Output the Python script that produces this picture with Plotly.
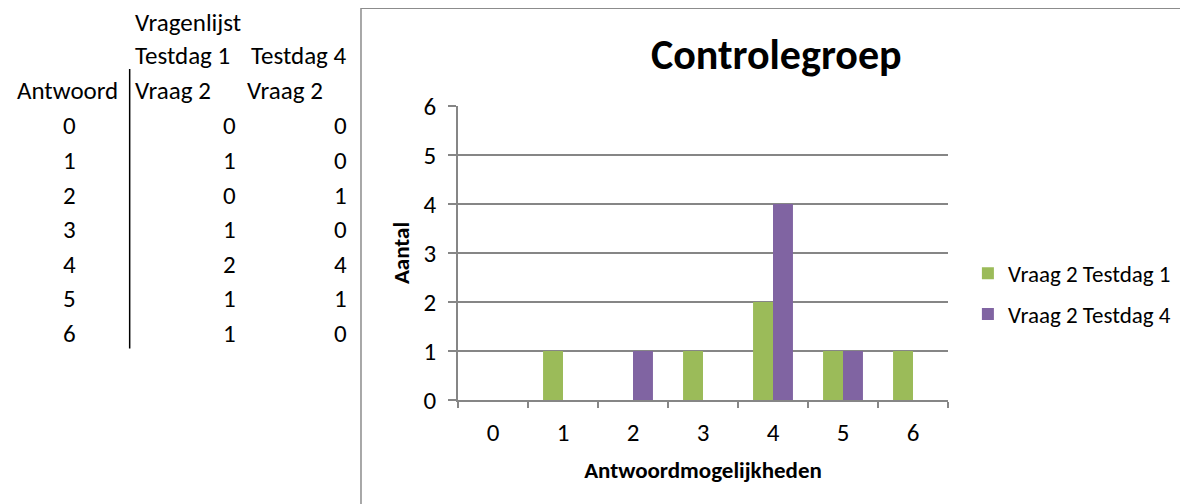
import plotly.graph_objects as go

# ---- data ----
answers = ["0", "1", "2", "3", "4", "5", "6"]
testdag1 = [0, 1, 0, 1, 2, 1, 1]
testdag4 = [0, 0, 1, 0, 4, 1, 0]
series_names = ["Vraag 2 Testdag 1", "Vraag 2 Testdag 4"]
chart_title = "Controlegroep"
x_title = "Antwoordmogelijkheden"
y_title = "Aantal"
y_ticks = [0, 1, 2, 3, 4, 5, 6]

# ---- layout geometry (window pixels; page body has an 8px margin) ----
OFF = 8
W, H = 1188 - OFF, 504 - OFF
L, R, T, B = 457.5 - OFF, 950.0 - OFF, 106.0 - OFF, 400.5 - OFF
FONT = "Carlito, Lato, sans-serif"
GREEN = "#9BBB59"
PURPLE = "#8064A2"
GRID = "#868686"
TICK_SIZE = 25


def px(x):
    return (x - OFF - L) / (R - L)


def py(y):
    return (B - (y - OFF)) / (B - T)


fig = go.Figure()
fig.add_trace(go.Bar(x=answers, y=testdag1, name=series_names[0],
                     marker=dict(color=GREEN, line=dict(width=0)),
                     legendgroup="a"))
fig.add_trace(go.Bar(x=answers, y=testdag4, name=series_names[1],
                     marker=dict(color=PURPLE, line=dict(width=0)),
                     legendgroup="b"))

annotations = []


def txt(s, x, y, anchor="left", size=25, bold=False):
    annotations.append(dict(
        text=f"<b>{s}</b>" if bold else s, x=px(x), y=py(y), xref="paper", yref="paper",
        xanchor=anchor, yanchor="middle", showarrow=False,
        font=dict(family=FONT, size=size, color="#000")))


# left-hand spreadsheet table
txt("Vragenlijst", 131, 22)
txt("Testdag 1", 131, 55)
txt("Testdag 4", 348, 55, anchor="right")
txt("Antwoord", 65, 90, anchor="center")
txt("Vraag 2", 131, 90)
txt("Vraag 2", 243, 90)
for i, a in enumerate(answers):
    yy = 126 + 34.6 * i
    txt(a, 67, yy, anchor="center")
    txt(str(testdag1[i]), 236, yy, anchor="right")
    txt(str(testdag4[i]), 348, yy, anchor="right")

# chart title
annotations.append(dict(
    text=f"<b>{chart_title}</b>", x=px(778), y=py(54), xref="paper", yref="paper",
    xanchor="center", yanchor="middle", showarrow=False,
    font=dict(family=FONT, size=42, color="#000")))

shapes = [
    # table divider
    dict(type="line", xref="paper", yref="paper", x0=px(127.5), x1=px(127.5),
         y0=py(69), y1=py(349), line=dict(color="#000", width=1.5)),
    # chart area border
    dict(type="rect", xref="paper", yref="paper", x0=px(360), x1=px(1220),
         y0=py(8), y1=py(540), line=dict(color="#8C8C8C", width=1.5),
         fillcolor="rgba(0,0,0,0)"),
]

fig.update_layout(
    width=W, height=H,
    margin=dict(l=L, r=W - R, t=T, b=H - B, pad=0),
    paper_bgcolor="white", plot_bgcolor="white",
    barmode="group", bargap=0.43, bargroupgap=0,
    font=dict(family=FONT, size=21, color="#000"),
    showlegend=True,
    legend=dict(x=px(970), y=py(252), xanchor="left", yanchor="top",
                font=dict(family=FONT, size=23, color="#000"),
                tracegroupgap=8, traceorder="grouped", bgcolor="rgba(0,0,0,0)"),
    annotations=annotations, shapes=shapes,
    xaxis=dict(
        type="category", showgrid=False, showline=True, linecolor=GRID, linewidth=1.5,
        ticks="outside", tickson="boundaries", ticklen=6, tickcolor=GRID, tickwidth=1.5,
        tickfont=dict(family=FONT, size=TICK_SIZE, color="#000"), ticklabelstandoff=9,
        title=dict(text=f"<b>{x_title}</b>", font=dict(family=FONT, size=23, color="#000"),
                   standoff=15),
        zeroline=False,
    ),
    yaxis=dict(
        range=[0, 6], tickvals=y_ticks, showgrid=True, gridcolor=GRID, gridwidth=1.5,
        showline=True, linecolor=GRID, linewidth=1.5,
        ticks="outside", ticklen=8, tickcolor=GRID, tickwidth=1.5,
        tickfont=dict(family=FONT, size=TICK_SIZE, color="#000"), ticklabelstandoff=7,
        title=dict(text=f"<b>{y_title}</b>", font=dict(family=FONT, size=23, color="#000"),
                   standoff=8),
        zeroline=False,
    ),
)

fig.write_html("out.html")
